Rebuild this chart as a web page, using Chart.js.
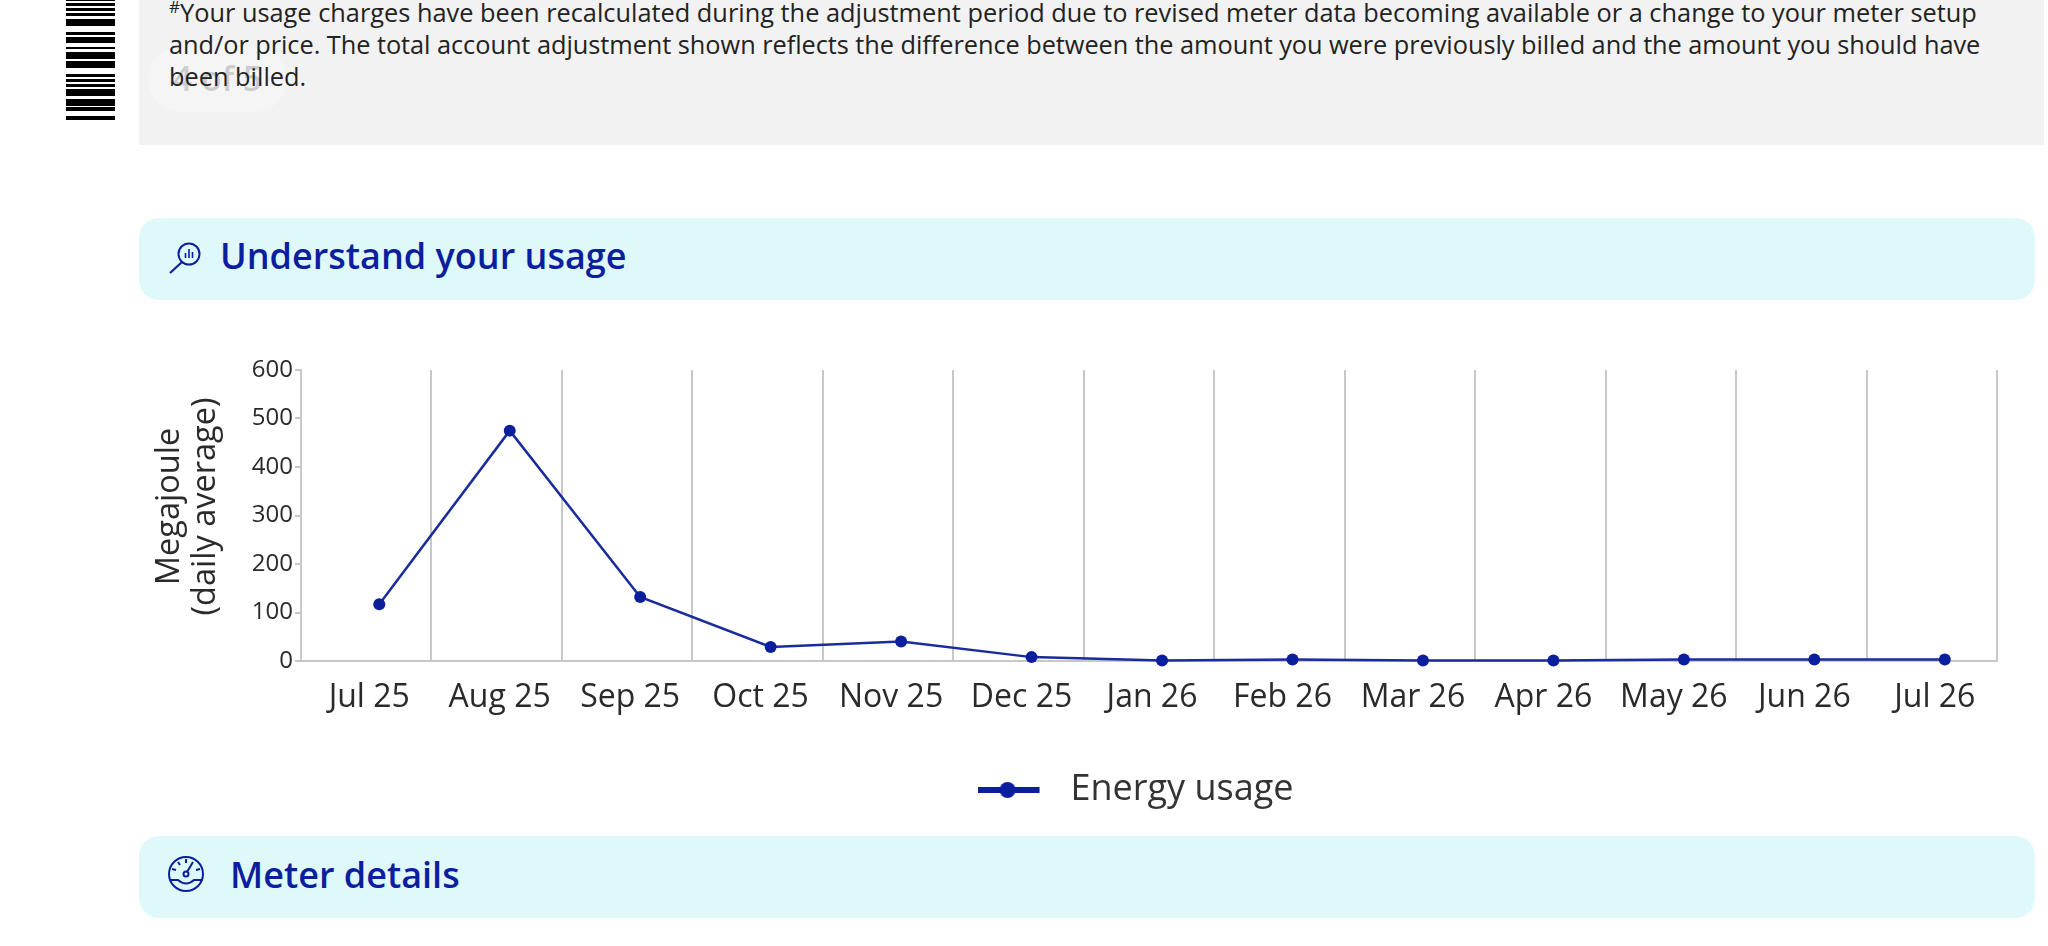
<!DOCTYPE html>
<html>
<head>
<meta charset="utf-8">
<title>Understand your usage</title>
<script src="https://cdn.jsdelivr.net/npm/chart.js@4/dist/chart.umd.min.js"></script>
<style>
  html, body { margin: 0; height: 100%; background: #fff; overflow: hidden; font-family: "Open Sans", sans-serif; }
  .abs { position: absolute; }
  #notice { left: 139px; top: 0; width: 1905px; height: 145px; background: #f2f2f2; }
  #notice p { position: absolute; left: 30px; top: -4px; margin: 0; width: 1870px; font-size: 25.35px; line-height: 32px; color: #222; white-space: nowrap; }
  #notice p span { letter-spacing: -.05px; }
  #notice sup { font-size: 17px; line-height: 0; }
  #pill { left: 9px; top: 47px; width: 139px; height: 65px; border-radius: 32px; background: rgba(255,255,255,.22); color: rgba(60,60,60,.22); font-size: 34px; font-weight: 600; line-height: 62px; text-align: center; filter: blur(.6px); }
  .band { left: 139px; width: 1896px; height: 82px; border-radius: 20px; background: #dff8fa; }
  .band span { position: absolute; font-size: 36px; font-weight: 600; line-height: 50px; color: #0b1f9e; white-space: nowrap; }
  .band svg { position: absolute; }
  #barcode { left: 66px; top: 0; }
  #chartBox { left: 130px; top: 340px; width: 1918px; height: 478px; }
</style>
</head>
<body>
<svg class="abs" id="barcode" width="49" height="120"><path fill="#000" d="M0 0h49v1H0zM0 3h49v3H0zM0 8h49v3H0zM0 13h49v3H0zM0 19h49v7H0zM0 32h49v3H0zM0 37h49v6H0zM0 47h49v2H0zM0 52h49v7H0zM0 61h49v7H0zM0 74h49v3H0zM0 79h49v3H0zM0 84h49v3H0zM0 89h49v7H0zM0 99h49v7H0zM0 107h49v4H0zM0 116h49v4H0z"/></svg>
<div class="abs" id="notice">
  <div class="abs" id="pill">4 of 5</div>
  <p><sup>#</sup>Your usage charges have been recalculated during the adjustment period due to revised meter data becoming available or a change to your meter setup<br><span>and/or price. The total account adjustment shown reflects the difference between the amount you were previously billed and the amount you should have</span><br>been billed.</p>
</div>
<div class="abs band" style="top:218px">
  <svg style="left:30px;top:24px" width="32" height="34" viewBox="0 0 32 34" fill="none" stroke="#0b1f9e" stroke-width="2">
    <circle cx="20" cy="12" r="10.5"/>
    <path d="M13 20 L1 31" stroke-width="2.2"/><path d="M16.5 16v-5M20 16V7M23.5 16v-6" stroke-width="1.6"/>
  </svg>
  <span style="left:81px;top:13px">Understand your usage</span>
</div>
<div class="abs band" style="top:836px">
  <svg style="left:29px;top:20px" width="38" height="38" viewBox="0 0 38 38" fill="none" stroke="#0b1f9e" stroke-width="2">
    <circle cx="18" cy="18" r="17"/><path d="M1.5 24 H10 Q18 31 26 24 H34.5"/><circle cx="18" cy="18" r="2.5"/><path d="M19 16 L25 6M18 3v4M10 6l2 3M4 13l4 1M32 13l-4 1"/>
  </svg>
  <span style="left:91px;top:14px">Meter details</span>
</div>
<div class="abs" id="chartBox"><canvas id="usageChart"></canvas></div>
<script>
const months = ["Jul 25", "Aug 25", "Sep 25", "Oct 25", "Nov 25", "Dec 25", "Jan 26", "Feb 26", "Mar 26", "Apr 26", "May 26", "Jun 26", "Jul 26"];
const energyUsage = [117, 475, 132, 29, 40, 8, 1, 3, 1, 1, 3, 3, 3];
const yTickValues = [0, 100, 200, 300, 400, 500, 600];

const blue = "#0b1f9e";
const gridGrey = "#c8c8c8";
const textDark = "#2a2a2a";

// line + dot marker for the legend, the gap on the right pushes the text away
const legendMark = document.createElement("canvas");
legendMark.width = 75;
legendMark.height = 18;
const markCtx = legendMark.getContext("2d");
markCtx.fillStyle = blue;
markCtx.fillRect(0, 6, 62, 6);
markCtx.beginPath();
markCtx.arc(30, 9, 8, 0, Math.PI * 2);
markCtx.fill();

const nudgePlugin = {
  id: "nudge",
  afterLayout(chart) {
    // legend and axis title do not sit on the centre of the plot in the original
    chart.legend.left += 72;
    chart.legend.right += 72;
    chart.scales.yTitle.top -= 9;
    chart.scales.yTitle.bottom -= 9;
  }
};

new Chart(document.getElementById("usageChart"), {
  type: "line",
  plugins: [nudgePlugin],
  data: {
    labels: months,
    datasets: [{
      label: "Energy usage",
      data: energyUsage.map((v, i) => ({ x: i, y: v })),
      xAxisID: "xPoints",
      yAxisID: "y",
      borderColor: "#1a2c9c",
      backgroundColor: blue,
      borderWidth: 2.5,
      pointRadius: 6,
      pointBackgroundColor: blue,
      pointBorderWidth: 0,
      tension: 0,
      clip: false
    }]
  },
  options: {
    responsive: true,
    maintainAspectRatio: false,
    animation: false,
    layout: { padding: { top: 30, right: 51, left: 0, bottom: 0 } },
    plugins: {
      tooltip: { enabled: false },
      legend: {
        position: "bottom",
        labels: {
          usePointStyle: true,
          pointStyle: legendMark,
          pointStyleWidth: 75,
          padding: 31,
          color: "#333",
          font: { family: "Open Sans", size: 36 }
        }
      }
    },
    scales: {
      x: {
        type: "category",
        offset: true,
        afterFit(scale) { scale.height = 80; },
        grid: { color: gridGrey, lineWidth: 2, drawTicks: false, offset: true },
        border: { color: gridGrey, width: 2 },
        ticks: { color: textDark, padding: 18, labelOffset: 3, maxRotation: 0, autoSkip: false, font: { family: "Open Sans", size: 32 } }
      },
      // the points sit right of the band centre, so they get their own hidden axis
      xPoints: { type: "linear", display: false, min: -0.6, max: 12.4 },
      y: {
        min: 0,
        max: 600,
        afterFit(scale) { scale.width = 50; },
        afterBuildTicks(scale) { scale.ticks = yTickValues.map(v => ({ value: v })); },
        grid: { drawOnChartArea: false, color: gridGrey, lineWidth: 2, tickLength: 6 },
        border: { color: gridGrey, width: 2 },
        ticks: { color: textDark, padding: 2, font: { family: "Open Sans", size: 24 } }
      },
      yTitle: {
        position: "left",
        weight: 1,
        afterFit(scale) { scale.width = 121; },
        grid: { display: false },
        border: { display: false },
        ticks: { display: false },
        title: {
          display: true,
          text: ["Megajoule", "(daily average)"],
          color: textDark,
          padding: { top: 22, bottom: 0 },
          font: { family: "Open Sans", size: 32.5, lineHeight: 1.1 }
        }
      }
    }
  }
});
</script>
</body>
</html>
